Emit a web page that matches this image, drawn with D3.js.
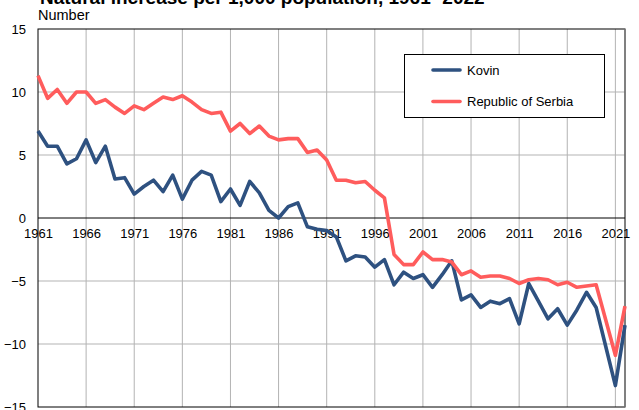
<!DOCTYPE html>
<html>
<head>
<meta charset="utf-8">
<script src="https://cdn.jsdelivr.net/npm/d3@7/dist/d3.min.js"></script>
<style>
  html, body { margin: 0; padding: 0; background: #fff; }
  svg { display: block; font-family: "Liberation Sans", Arial, sans-serif; }
</style>
</head>
<body>
<svg id="chart" width="639" height="410"></svg>
<script>
const years = d3.range(1961, 2023);
const kovin = [
  6.9, 5.7, 5.7, 4.3, 4.7, 6.2, 4.4, 5.7, 3.1, 3.2,
  1.9, 2.5, 3.0, 2.1, 3.4, 1.5, 3.0, 3.7, 3.4, 1.3,
  2.3, 1.0, 2.9, 2.0, 0.6, 0.0, 0.9, 1.2, -0.7, -0.9,
  -1.0, -1.5, -3.4, -3.0, -3.1, -3.9, -3.3, -5.3, -4.3, -4.8,
  -4.5, -5.5, -4.5, -3.4, -6.5, -6.1, -7.1, -6.6, -6.8, -6.4,
  -8.4, -5.2, -6.6, -8.0, -7.2, -8.5, -7.3, -5.9, -7.1, -10.2,
  -13.3, -8.5
];
const serbia = [
  11.3, 9.5, 10.2, 9.1, 10.0, 10.0, 9.1, 9.4, 8.8, 8.3,
  8.9, 8.6, 9.1, 9.6, 9.4, 9.7, 9.2, 8.6, 8.3, 8.4,
  6.9, 7.5, 6.7, 7.3, 6.5, 6.2, 6.3, 6.3, 5.2, 5.4,
  4.6, 3.0, 3.0, 2.8, 2.9, 2.2, 1.6, -2.9, -3.7, -3.7,
  -2.7, -3.3, -3.3, -3.5, -4.5, -4.2, -4.7, -4.6, -4.6, -4.8,
  -5.2, -4.9, -4.8, -4.9, -5.3, -5.1, -5.5, -5.4, -5.3, -8.1,
  -10.9, -7.0
];
const xTickYears = [1961, 1966, 1971, 1976, 1981, 1986, 1991, 1996, 2001, 2006, 2011, 2016, 2021];
const yTicks = [15, 10, 5, 0, -5, -10, -15];
const seriesNames = ["Kovin", "Republic of Serbia"];
const seriesColors = ["#2e5180", "#ff5c5c"];
const titleText = "Natural increase per 1,000 population, 1961- 2022";
const unitText = "Number";

const svg = d3.select("#chart");
const pL = 38, pR = 625, pT = 29, pB = 407;

const x = d3.scaleLinear().domain([1961, 2022]).range([pL, pR]);
const y = d3.scaleLinear().domain([-15, 15]).range([pB, pT]);

// title (cut at top, as in the reference) and unit
svg.append("text").attr("x", 40).attr("y", 4)
  .attr("font-size", 19).attr("font-weight", "bold").attr("fill", "#000")
  .text(titleText);
svg.append("text").attr("x", 38).attr("y", 20)
  .attr("font-size", 14.5).attr("fill", "#000").text(unitText);

// grid
const grid = svg.append("g");
grid.selectAll("line.v").data(xTickYears.filter(d => d !== 1961)).enter().append("line")
  .attr("x1", d => x(d)).attr("x2", d => x(d)).attr("y1", pT).attr("y2", pB)
  .attr("stroke", "#b3b3b3").attr("stroke-width", 1);
grid.selectAll("line.h").data(yTicks.filter(d => d !== 0 && Math.abs(d) !== 15)).enter().append("line")
  .attr("x1", pL).attr("x2", pR).attr("y1", d => y(d)).attr("y2", d => y(d))
  .attr("stroke", "#b3b3b3").attr("stroke-width", 1);

// border
svg.append("rect").attr("x", pL).attr("y", pT).attr("width", pR - pL).attr("height", pB - pT)
  .attr("fill", "none").attr("stroke", "#000").attr("stroke-width", 1);
svg.append("line").attr("x1", pR).attr("x2", pR).attr("y1", pT).attr("y2", pB)
  .attr("stroke", "#808080").attr("stroke-width", 1.5);

// zero line
svg.append("line").attr("x1", pL).attr("x2", pR).attr("y1", y(0)).attr("y2", y(0))
  .attr("stroke", "#000").attr("stroke-width", 1);

// y axis labels
const yAxis = d3.axisLeft(y).tickValues(yTicks).tickSize(0).tickPadding(12).tickFormat(d3.format("d"));
const gy = svg.append("g").attr("transform", `translate(${pL},0)`).call(yAxis);
gy.select(".domain").remove();
gy.selectAll("text").attr("font-size", 13).attr("fill", "#000")
  .attr("font-family", "Liberation Sans, Arial, sans-serif");

// x axis labels under zero line
const xAxis = d3.axisBottom(x).tickValues(xTickYears).tickSize(0).tickPadding(11).tickFormat(d3.format("d"));
const gx = svg.append("g").attr("transform", `translate(0,${y(0)})`).call(xAxis);
gx.select(".domain").remove();
gx.selectAll("text").attr("font-size", 13).attr("fill", "#000")
  .attr("font-family", "Liberation Sans, Arial, sans-serif");

// lines
const line = d3.line().x((d, i) => x(years[i])).y(d => y(d));
[kovin, serbia].forEach((vals, k) => {
  svg.append("path").datum(vals).attr("d", line)
    .attr("fill", "none").attr("stroke", seriesColors[k]).attr("stroke-width", 3.6)
    .attr("stroke-linejoin", "round");
});

// legend
const lg = svg.append("g");
lg.append("rect").attr("x", 404.5).attr("y", 54.5).attr("width", 200).attr("height", 63)
  .attr("fill", "#fff").attr("stroke", "#000").attr("stroke-width", 1);
seriesNames.forEach((name, k) => {
  const ly = 70 + k * 31.5;
  lg.append("line").attr("x1", 433).attr("x2", 460).attr("y1", ly).attr("y2", ly)
    .attr("stroke", seriesColors[k]).attr("stroke-width", 3.6).attr("stroke-linecap", "round");
  lg.append("text").attr("x", 467).attr("y", ly + 4.5).attr("font-size", 13).attr("fill", "#000").text(name);
});
</script>
</body>
</html>
